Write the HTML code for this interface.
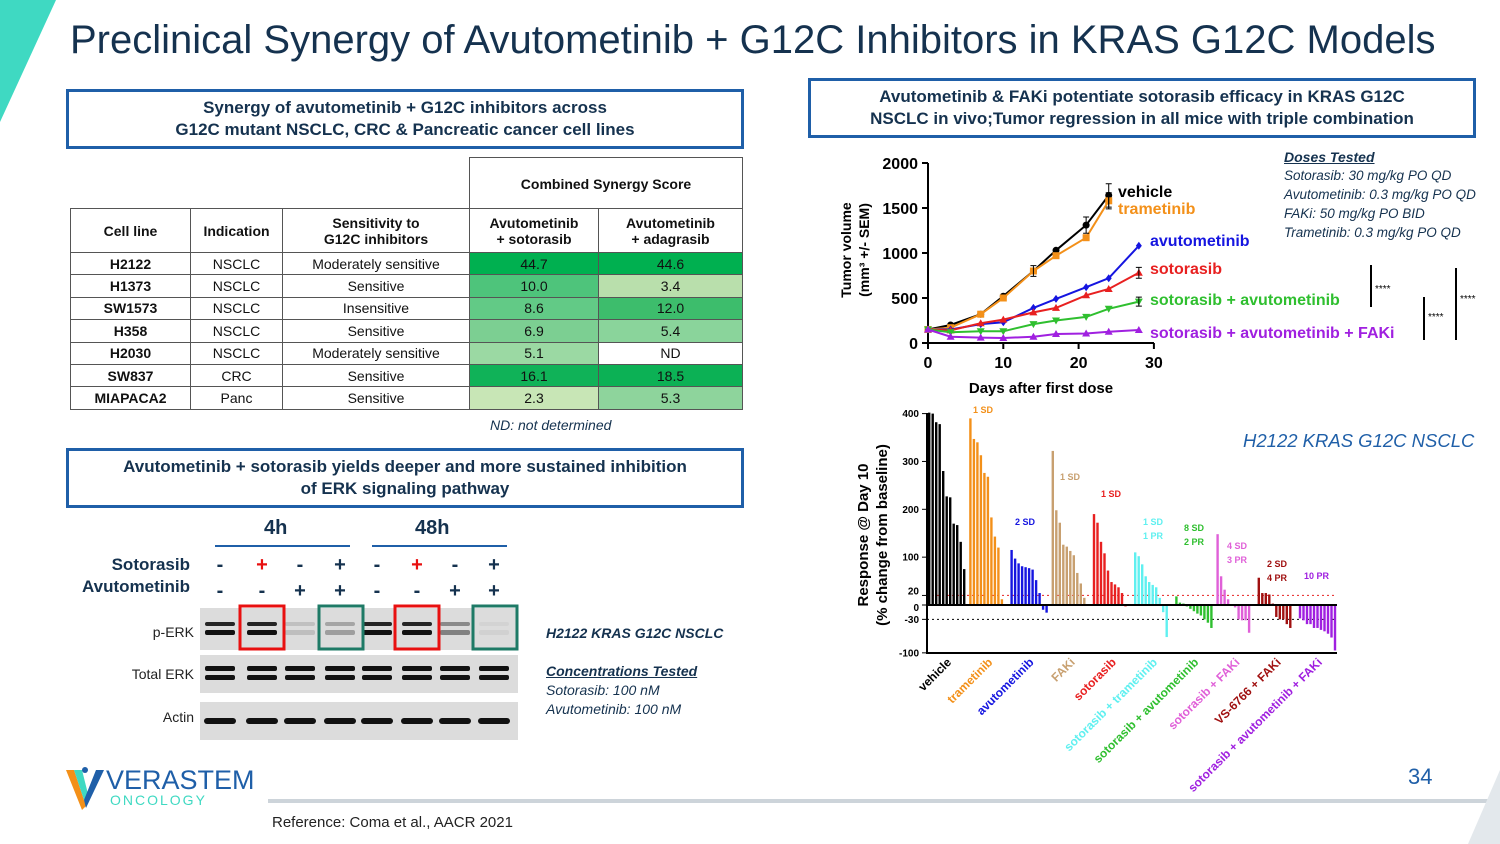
<!DOCTYPE html>
<html><head><meta charset="utf-8"><style>
body{margin:0;width:1500px;height:844px;position:relative;overflow:hidden;background:#fff;font-family:"Liberation Sans",sans-serif;color:#15324f}
.a{position:absolute}
.box{position:absolute;border:3px solid #1f5fa8;box-sizing:border-box;text-align:center;font-weight:bold;font-size:17px;line-height:22px;color:#15324f;display:flex;align-items:center;justify-content:center}
table{border-collapse:collapse;position:absolute;left:70px;top:208px;font-size:14px;color:#111}
td{border:1px solid #555;text-align:center;padding:0;height:21.4px}
.sign{position:absolute;font-weight:bold;font-size:20px;width:20px;text-align:center;color:#15324f}
.it{font-style:italic;font-size:14px;color:#15324f}
</style></head><body>
<svg class="a" style="left:0;top:0" width="60" height="125"><polygon points="0,0 56,0 0,122" fill="#3fd9c2"/></svg>
<div class="a" style="left:70px;top:18px;font-size:40px;color:#15324f;white-space:nowrap">Preclinical Synergy of Avutometinib + G12C Inhibitors in KRAS G12C Models</div>

<div class="box" style="left:66px;top:89px;width:678px;height:60px">Synergy of avutometinib + G12C inhibitors across<br>G12C mutant NSCLC, CRC &amp; Pancreatic cancer cell lines</div>
<div class="box" style="left:808px;top:78px;width:668px;height:60px">Avutometinib &amp; FAKi potentiate sotorasib efficacy in KRAS G12C<br>NSCLC in vivo;Tumor regression in all mice with triple combination</div>
<div class="box" style="left:66px;top:448px;width:678px;height:60px">Avutometinib + sotorasib yields deeper and more sustained inhibition<br>of ERK signaling pathway</div>

<div class="a" style="left:469px;top:157px;width:272px;height:51px;border:1px solid #555;border-bottom:none;font-size:14px;font-weight:bold;color:#111;display:flex;align-items:center;justify-content:center">Combined Synergy Score</div>
<table>
<tr style="font-weight:bold"><td style="width:119px;height:43px">Cell line</td><td style="width:91px">Indication</td><td style="width:186px">Sensitivity to<br>G12C inhibitors</td><td style="width:128px">Avutometinib<br>+ sotorasib</td><td style="width:143px">Avutometinib<br>+ adagrasib</td></tr>
<tr><td><b>H2122</b></td><td>NSCLC</td><td>Moderately sensitive</td><td style="background:#00b050">44.7</td><td style="background:#00b050">44.6</td></tr>
<tr><td><b>H1373</b></td><td>NSCLC</td><td>Sensitive</td><td style="background:#4ec47b">10.0</td><td style="background:#b9dfac">3.4</td></tr>
<tr><td><b>SW1573</b></td><td>NSCLC</td><td>Insensitive</td><td style="background:#62ca86">8.6</td><td style="background:#3dbd6c">12.0</td></tr>
<tr><td><b>H358</b></td><td>NSCLC</td><td>Sensitive</td><td style="background:#7ccf92">6.9</td><td style="background:#8ad49b">5.4</td></tr>
<tr><td><b>H2030</b></td><td>NSCLC</td><td>Moderately sensitive</td><td style="background:#9bd9a3">5.1</td><td>ND</td></tr>
<tr><td><b>SW837</b></td><td>CRC</td><td>Sensitive</td><td style="background:#10b258">16.1</td><td style="background:#0cb155">18.5</td></tr>
<tr><td><b>MIAPACA2</b></td><td>Panc</td><td>Sensitive</td><td style="background:#c8e6b6">2.3</td><td style="background:#8ed49c">5.3</td></tr>
</table>
<div class="a it" style="left:490px;top:417px">ND: not determined</div>

<div class="a" style="left:264px;top:517px;font-size:20px;font-weight:bold">4h</div>
<div class="a" style="left:415px;top:517px;font-size:20px;font-weight:bold">48h</div>
<div class="a" style="left:215px;top:545px;width:135px;height:2px;background:#1f5fa8"></div>
<div class="a" style="left:372px;top:545px;width:135px;height:2px;background:#1f5fa8"></div>
<div class="a" style="right:1310px;top:555px;font-size:17px;font-weight:bold">Sotorasib</div>
<div class="a" style="right:1310px;top:577px;font-size:17px;font-weight:bold">Avutometinib</div>
<div id="signs"></div>
<div class="a" style="left:200px;top:608px;width:318px;height:42px;background:#dcdcdc"></div>
<div class="a" style="left:200px;top:655px;width:318px;height:38px;background:#dcdcdc"></div>
<div class="a" style="left:200px;top:702px;width:318px;height:38px;background:#dcdcdc"></div>
<svg class="a" style="left:0;top:0" width="600" height="760" id="blot"></svg>
<div class="a" style="right:1306px;top:624px;font-size:14px;color:#222">p-ERK</div>
<div class="a" style="right:1306px;top:666px;font-size:14px;color:#222">Total ERK</div>
<div class="a" style="right:1306px;top:709px;font-size:14px;color:#222">Actin</div>
<div class="a it" style="left:546px;top:625px;font-weight:bold">H2122 KRAS G12C NSCLC</div>
<div class="a it" style="left:546px;top:663px;font-weight:bold;text-decoration:underline">Concentrations Tested</div>
<div class="a it" style="left:546px;top:682px">Sotorasib: 100 nM</div>
<div class="a it" style="left:546px;top:701px">Avutometinib: 100 nM</div>

<svg class="a" style="left:64px;top:766px" width="44" height="46"><polygon points="2,4 10,4 22,40 18,44" fill="#f39019"/><polygon points="10,4 18,4 24,28 20,34" fill="#3fd9c2"/><polygon points="40,4 32,4 20,34 22,42" fill="#1f5fa8"/><circle cx="21" cy="4" r="3" fill="#1f5fa8"/></svg>
<div class="a" style="left:106px;top:765px;font-size:27px;color:#1f5fa8">VERASTEM</div>
<div class="a" style="left:110px;top:792px;font-size:14px;letter-spacing:2px;color:#3fd9c2">ONCOLOGY</div>
<div class="a" style="left:268px;top:799px;width:1232px;height:4px;background:#cdd4da"></div>
<div class="a" style="left:272px;top:814px;font-size:15px;color:#222">Reference: Coma et al., AACR 2021</div>
<div class="a" style="left:1408px;top:764px;font-size:22px;color:#1f5fa8">34</div>
<svg class="a" style="left:1460px;top:770px" width="40" height="74"><polygon points="40,0 40,74 8,74" fill="#e3e8ec"/></svg>

<div class="a it" style="left:1284px;top:149px;font-weight:bold;text-decoration:underline">Doses Tested</div>
<div class="a it" style="left:1284px;top:168px;font-size:13.5px">Sotorasib: 30 mg/kg PO QD</div>
<div class="a it" style="left:1284px;top:187px;font-size:13.5px">Avutometinib: 0.3 mg/kg PO QD</div>
<div class="a it" style="left:1284px;top:206px;font-size:13.5px">FAKi: 50 mg/kg PO BID</div>
<div class="a it" style="left:1284px;top:225px;font-size:13.5px">Trametinib: 0.3 mg/kg PO QD</div>
<div class="a it" style="left:1243px;top:430px;font-size:18.5px;color:#1f5fa8">H2122 KRAS G12C NSCLC</div>

<svg class="a" style="left:0;top:0" width="1500" height="844" id="charts"></svg>

<script>
const days = [0,3,7,10,14,17,21,24,28];
const seriesNames = ['vehicle','trametinib','avutometinib','sotorasib','sotorasib + avutometinib','sotorasib + avutometinib + FAKi'];
const vehicleVals = [150,200,320,520,800,1030,1310,1640];
const trametinibVals = [150,170,320,500,800,970,1170,1580];
const avutometinibVals = [150,150,210,230,390,490,620,720,1080];
const sotorasibVals = [150,140,220,260,340,390,530,600,780];
const sotoAvuVals = [150,120,130,130,210,250,290,380,460];
const tripleVals = [150,70,60,55,70,100,105,125,145];
const yTicks = [0,500,1000,1500,2000];
const xTicks = [0,10,20,30];

const groups = ['vehicle','trametinib','avutometinib','FAKi','sotorasib','sotorasib + trametinib','sotorasib + avutometinib','sotorasib + FAKi','VS-6766 + FAKi','sotorasib + avutometinib + FAKi'];
const wVehicle = [402,400,382,378,280,227,225,170,167,132,75];
const wTrametinib = [390,347,340,313,276,268,183,143,120,12];
const wAvutometinib = [115,97,87,81,79,77,74,52,25,-10,-16];
const wFAKi = [322,198,172,126,122,113,104,67,45,15];
const wSotorasib = [190,172,132,108,72,48,43,37,25,-3];
const wSotoTram = [110,102,85,60,48,42,37,15,-15,-67];
const wSotoAvu = [18,5,3,-3,-8,-13,-18,-22,-30,-37,-48];
const wSotoFAKi = [148,60,32,12,-2,-5,-30,-32,-32,-58];
const wVSFAKi = [57,25,25,22,3,-25,-30,-30,-40,-48];
const wTriple = [-28,-32,-40,-40,-48,-48,-52,-55,-60,-68,-95];
const wTicks = [400,300,200,100,20,0,-30,-100];
const wNotes = [[],['1 SD'],['2 SD'],['1 SD'],['1 SD'],['1 SD','1 PR'],['8 SD','2 PR'],['4 SD','3 PR'],['2 SD','4 PR'],['10 PR']];

const NS='http://www.w3.org/2000/svg';
const svg=document.getElementById('charts');
function el(tag,attrs,parent,text){const e=document.createElementNS(NS,tag);for(const k in attrs)e.setAttribute(k,attrs[k]);if(text!==undefined)e.textContent=text;(parent||svg).appendChild(e);return e;}

const lx=d=>928+d*7.53, ly=v=>343-v*0.09;
const colors=['#000','#f39019','#1515e0','#e82020','#2fbf2f','#a020e0'];
const allVals=[vehicleVals,trametinibVals,avutometinibVals,sotorasibVals,sotoAvuVals,tripleVals];
let ax=el('line',{x1:928,y1:163,x2:928,y2:343,stroke:'#000','stroke-width':2});

let bx=el('line',{x1:928,y1:343,x2:1154,y2:343,stroke:'#000','stroke-width':2});

yTicks.forEach(t=>{el('line',{x1:922,x2:928,y1:ly(t),y2:ly(t),stroke:'#000','stroke-width':2});
 const tl=el('text',{x:918,y:ly(t)+6,'text-anchor':'end','font-size':16,'font-weight':'bold'},svg,t);
 });
xTicks.forEach(t=>{el('line',{x1:lx(t),x2:lx(t),y1:343,y2:349,stroke:'#000','stroke-width':2});
 const tl=el('text',{x:lx(t),y:368,'text-anchor':'middle','font-size':16,'font-weight':'bold'},svg,t);
 });
let xt=el('text',{x:1041,y:393,'text-anchor':'middle','font-size':15,'font-weight':'bold'},svg,'Days after first dose');

let yt=el('text',{transform:'translate(851,250) rotate(-90)','text-anchor':'middle','font-size':14,'font-weight':'bold'},svg,'Tumor volume');

let yt2=el('text',{transform:'translate(869,250) rotate(-90)','text-anchor':'middle','font-size':14,'font-weight':'bold'},svg,'(mm³ +/- SEM)');

allVals.forEach((vals,i)=>{
 const pts=vals.map((v,j)=>lx(days[j])+','+ly(v)).join(' ');
 const pl=el('polyline',{points:pts,fill:'none',stroke:colors[i],'stroke-width':2});
 
 
 vals.forEach((v,j)=>{const x=lx(days[j]),y=ly(v);let m;
  if(i==0)m=el('circle',{cx:x,cy:y,r:3.5,fill:colors[i]});
  else if(i==1)m=el('rect',{x:x-3.5,y:y-3.5,width:7,height:7,fill:colors[i]});
  else if(i==2)m=el('polygon',{points:`${x},${y-4} ${x+3},${y} ${x},${y+4} ${x-3},${y}`,fill:colors[i]});
  else if(i==4)m=el('polygon',{points:`${x-4},${y-3} ${x+4},${y-3} ${x},${y+4}`,fill:colors[i]});
  else m=el('polygon',{points:`${x-4},${y+3} ${x+4},${y+3} ${x},${y-4}`,fill:colors[i]});
  });
});
[[0,7,130],[0,6,90],[1,7,90],[0,4,60],[3,8,60],[4,8,50]].forEach(([s,j,e])=>{const x=lx(days[j]),v=allVals[s][j];
 el('path',{d:`M${x},${ly(v+e)}V${ly(v-e)}M${x-3},${ly(v+e)}h6M${x-3},${ly(v-e)}h6`,stroke:'#000','stroke-width':1,fill:'none'});});
[['vehicle',1118,197,'#000'],['trametinib',1118,214,'#f39019'],['avutometinib',1150,246,'#1515e0'],['sotorasib',1150,274,'#e82020'],['sotorasib + avutometinib',1150,305,'#2fbf2f'],['sotorasib + avutometinib + FAKi',1150,338,'#a020e0']].forEach(([t,x,y,c])=>{
 const e=el('text',{x,y,'font-size':16,'font-weight':'bold',fill:c},svg,t);});
[[1371,265,307,1375,292],[1424,297,340,1428,320],[1456,268,340,1460,302]].forEach(([x,y1,y2,tx,ty])=>{
 el('line',{x1:x,x2:x,y1,y2,stroke:'#000','stroke-width':2});
 const e=el('text',{x:tx,y:ty,'font-size':10},svg,'****');});

const wy=v=>605-v*0.4785;
const wData=[wVehicle,wTrametinib,wAvutometinib,wFAKi,wSotorasib,wSotoTram,wSotoAvu,wSotoFAKi,wVSFAKi,wTriple];
const wColors=['#000','#f39019','#1515e0','#c8a070','#e82020','#5ff0f0','#2fbf2f','#e060d8','#a01010','#a020e0'];
const noteX=[0,973,1015,1060,1101,1143,1184,1227,1267,1304];
const noteY=[0,413,525,480,497,525,531,549,567,579];
el('line',{x1:927,x2:1337,y1:wy(20),y2:wy(20),stroke:'#e82020','stroke-dasharray':'2,3','stroke-width':1});
el('line',{x1:927,x2:1337,y1:wy(-30),y2:wy(-30),stroke:'#000','stroke-dasharray':'2,3','stroke-width':1});
wData.forEach((vals,g)=>{const gx=928+g*41.2;
 vals.forEach((v,j)=>{const x=gx+j*3.5;const r=el('rect',{x,y:Math.min(wy(v),wy(0)),width:2.4,height:Math.max(1,Math.abs(wy(v)-wy(0))),fill:wColors[g]});
  });
 const lbl=el('text',{transform:`translate(${gx+24},663) rotate(-45)`,'text-anchor':'end','font-size':12,'font-weight':'bold',fill:wColors[g]},svg,groups[g]);
 
 wNotes[g].forEach((n,k)=>{
  const e=el('text',{x:noteX[g],y:noteY[g]+k*14,'font-size':9,'font-weight':'bold',fill:wColors[g]},svg,n);
  });
});
let wax=el('path',{d:'M927,413V653H1337',stroke:'#000','stroke-width':2,fill:'none'});

el('line',{x1:927,x2:1337,y1:wy(0),y2:wy(0),stroke:'#000','stroke-width':2});
wTicks.forEach(t=>{el('line',{x1:922,x2:927,y1:wy(t),y2:wy(t),stroke:'#000'});
 const e=el('text',{x:919,y:wy(t)+(t==20?-1:(t==0?6:3.5)),'text-anchor':'end','font-size':10,'font-weight':'bold'},svg,t);
 });
let w1=el('text',{transform:'translate(868,535) rotate(-90)','text-anchor':'middle','font-size':15,'font-weight':'bold'},svg,'Response @ Day 10');

let w2=el('text',{transform:'translate(887,535) rotate(-90)','text-anchor':'middle','font-size':15,'font-weight':'bold'},svg,'(% change from baseline)');


const lanes=[220,262,300,340,377,417,455,494];
const soto=['-','+','-','+','-','+','-','+'];
const avu=['-','-','+','+','-','-','+','+'];
const perk=[1,1,0.15,0.3,1.2,1,0.45,0.05];
const signs=document.getElementById('signs');
lanes.forEach((x,i)=>{
 const s=document.createElement('div');s.className='sign';s.style.left=(x-10)+'px';s.style.top='554px';s.textContent=soto[i];
 if(i==1||i==5)s.style.color='#e81010';
 
 
 signs.appendChild(s);
 const a=document.createElement('div');a.className='sign';a.style.left=(x-10)+'px';a.style.top='580px';a.textContent=avu[i];
 
 
 signs.appendChild(a);
});
const blot=document.getElementById('blot');
lanes.forEach((x,i)=>{
 const op=Math.min(1,perk[i]);
 el('rect',{x:x-15,y:622,width:30,height:4,rx:2,fill:'#111','fill-opacity':op*0.9},blot);
 el('rect',{x:x-15,y:630,width:30,height:5,rx:2,fill:'#111','fill-opacity':op},blot);
 el('rect',{x:x-15,y:666,width:30,height:5,rx:2,fill:'#111'},blot);
 el('rect',{x:x-15,y:675,width:30,height:5,rx:2,fill:'#111'},blot);
 el('rect',{x:x-16,y:718,width:32,height:6,rx:3,fill:'#111'},blot);
});
[[240,'#e81010'],[395,'#e81010'],[319,'#1e7a66'],[473,'#1e7a66']].forEach(([x,c])=>{
 const r=el('rect',{x,y:606,width:44,height:43,fill:'none',stroke:c,'stroke-width':3},blot);
 });
</script>
</body></html>
